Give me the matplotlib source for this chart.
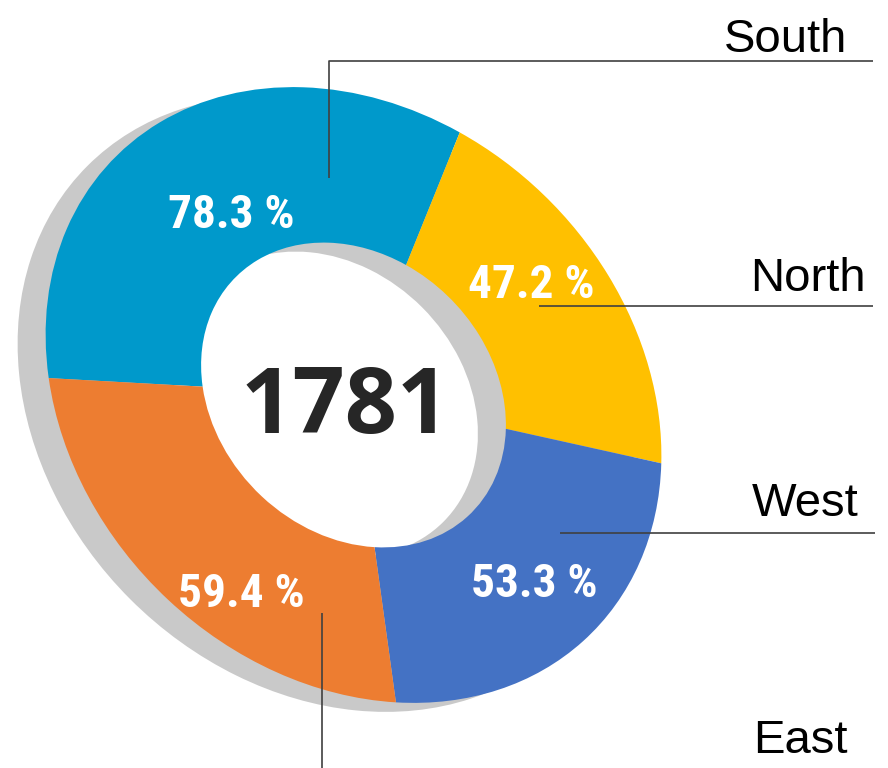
import matplotlib
matplotlib.use('Agg')
import matplotlib.pyplot as plt
from matplotlib import font_manager
from matplotlib.patches import Wedge
from matplotlib.transforms import Affine2D

regions = ['South', 'North', 'West', 'East']
values = [78.3, 47.2, 53.3, 59.4]
colors = ['#0099CB', '#FFC000', '#4472C4', '#ED7D31']
total_label = '1781'

# ring geometry in pixels (image coords, y down)
cx, cy = 353.5, 395
R = 336.7
hole = 0.495
squash = 0.82
tilt = -45
shadow_dx, shadow_dy = -28, 9

# narrow bold face for the percentages, if one is installed
fonts = font_manager.fontManager.ttflist
names = {f.name for f in fonts}
pct_font = dict(family=['Roboto', 'DejaVu Sans'], fontsize=29)
if 'Liberation Sans Narrow' in names:
    pct_font = dict(family=['Liberation Sans Narrow', 'DejaVu Sans'], fontsize=34)
elif 'Roboto Condensed' in names:
    pct_font = dict(family=['Roboto Condensed', 'DejaVu Sans'], fontsize=34)
elif any(f.name == 'DejaVu Sans' and f.stretch == 'condensed' for f in fonts):
    pct_font = dict(family=['DejaVu Sans'], fontstretch='condensed', fontsize=31)

fig = plt.figure(figsize=(8.88, 7.68), dpi=100)
ax = fig.add_axes([0, 0, 1, 1])


def ring_transform(dx=0, dy=0):
    return (Affine2D().scale(1, squash).rotate_deg(tilt).scale(1, -1)
            .translate(cx + dx, cy + dy) + ax.transData)


# grey shadow ring behind
shadow = Wedge((0, 0), R, 0, 360, width=R * (1 - hole),
               facecolor='#C9C9C9', linewidth=0)
ax.add_patch(shadow)
shadow.set_transform(ring_transform(shadow_dx, shadow_dy))

wedges, _ = ax.pie(values, colors=colors, startangle=227.5, counterclock=False,
                   radius=R, center=(0, 0),
                   wedgeprops=dict(width=R * (1 - hole), linewidth=0))
for w in wedges:
    w.set_transform(ring_transform())

ax.set_xlim(0, 888)
ax.set_ylim(768, 0)
ax.set_aspect('equal')
ax.axis('off')

# percentage labels inside the ring
pct_pos = [(231, 228), (531, 298), (534, 597), (241, 607)]
for v, (x, y) in zip(values, pct_pos):
    ax.text(x, y, '{:.1f} %'.format(v), ha='center', va='baseline',
            color='white', fontweight='bold', **pct_font)

ax.text(345, 433, total_label, ha='center', va='baseline', color='#262626',
        fontsize=66, fontweight='bold', family=['Open Sans', 'DejaVu Sans'])

# region names with leader lines
name_pos = [(724, 52), (750, 291), (752, 516), (753, 753)]
for name, (x, y) in zip(regions, name_pos):
    ax.text(x, y, name, ha='left', va='baseline', color='black',
            fontsize=34, family=['Liberation Sans', 'DejaVu Sans'])

line_kw = dict(color='#404040', lw=1.2, solid_capstyle='butt')
ax.plot([329, 329, 873], [178, 61, 61], **line_kw)
ax.plot([539, 873], [306, 306], **line_kw)
ax.plot([560, 875], [533, 533], **line_kw)
ax.plot([322, 322], [613, 768], **line_kw)

fig.savefig('out.png', dpi=100, facecolor='white')
